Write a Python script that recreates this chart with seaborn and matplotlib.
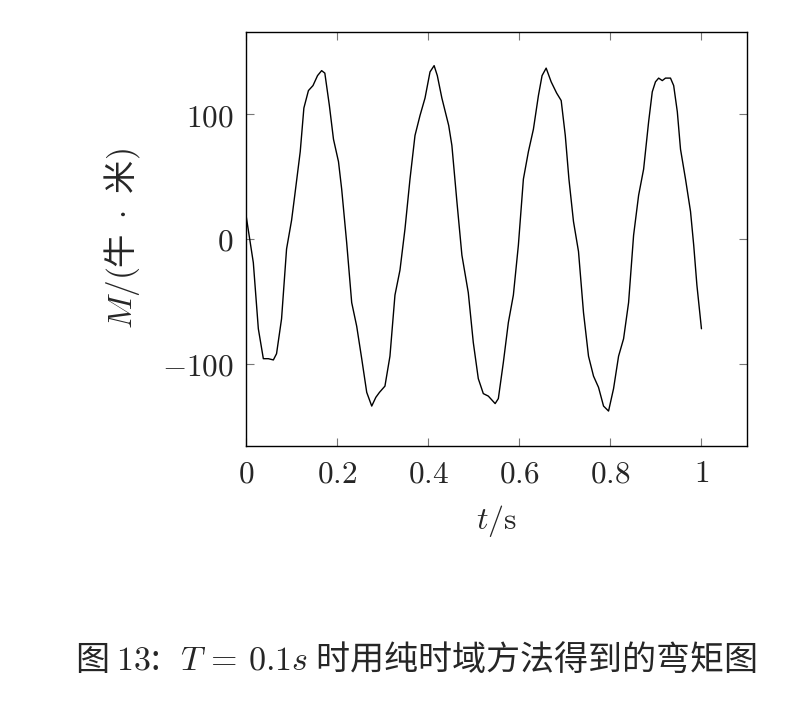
import numpy as np
import pandas as pd
import matplotlib
matplotlib.use("Agg")
import matplotlib.pyplot as plt
import seaborn as sns

# bending moment
t = [0.000, 0.016, 0.027, 0.038, 0.049, 0.060, 0.067, 0.078, 0.089, 0.100,
     0.107, 0.119, 0.127, 0.137, 0.147, 0.157, 0.166, 0.173, 0.183, 0.192,
     0.203, 0.210, 0.221, 0.232, 0.243, 0.254, 0.265, 0.276, 0.285, 0.293,
     0.305, 0.316, 0.327, 0.338, 0.349, 0.360, 0.371, 0.382, 0.393, 0.404,
     0.413, 0.420, 0.430, 0.445, 0.452, 0.463, 0.474, 0.488, 0.499, 0.510,
     0.521, 0.532, 0.547, 0.554, 0.565, 0.576, 0.587, 0.598, 0.609, 0.620,
     0.631, 0.642, 0.650, 0.659, 0.670, 0.682, 0.692, 0.701, 0.709, 0.719,
     0.730, 0.741, 0.752, 0.763, 0.774, 0.785, 0.796, 0.807, 0.818, 0.829,
     0.840, 0.851, 0.862, 0.873, 0.884, 0.892, 0.899, 0.906, 0.914, 0.921,
     0.932, 0.939, 0.947, 0.954, 0.965, 0.976, 0.983, 0.990, 1.000]
moment = [19, -19, -72, -96, -96, -97, -92, -64, -8, 15,
          35, 70, 105, 119, 123, 131, 135, 133, 107, 80,
          62, 40, -3, -51, -70, -96, -123, -134, -127, -123,
          -118, -94, -45, -25, 8, 48, 83, 99, 113, 134,
          139, 131, 113, 91, 75, 30, -13, -43, -83, -112,
          -124, -126, -132, -128, -99, -67, -45, -5, 48, 70,
          88, 115, 131, 137, 126, 117, 111, 83, 48, 14,
          -10, -59, -94, -110, -119, -134, -138, -120, -94, -80,
          -51, 3, 35, 56, 94, 118, 126, 129, 127, 129,
          129, 123, 102, 72, 48, 22, -5, -37, -72]
xticks = [0, 0.2, 0.4, 0.6, 0.8, 1]
xticklabels = ["0", "0.2", "0.4", "0.6", "0.8", "1"]
yticks = [-100, 0, 100]
yticklabels = ["-100", "0", "100"]

df = pd.DataFrame({"t": t, "M": moment})

sns.set_theme(style="ticks")
plt.rcParams["font.family"] = ["DejaVu Serif", "Noto Sans CJK SC"]
plt.rcParams["mathtext.fontset"] = "cm"
cjk = ["Noto Sans CJK SC", "DejaVu Serif"]

fig = plt.figure(figsize=(8.08, 7.01), dpi=100)
ax = fig.add_axes([0.3045, 0.3638, 0.62, 0.5906])

sns.lineplot(data=df, x="t", y="M", sort=False, color="black", linewidth=1.0, ax=ax)

ax.set_xlim(0, 1.1)
ax.set_ylim(-166, 166)
ax.set_xticks(xticks)
ax.set_xticklabels(["$" + s + "$" for s in xticklabels], fontsize=22.5)
ax.set_yticks(yticks)
ax.set_yticklabels(["$" + s + "$" for s in yticklabels], fontsize=22.5)
ax.tick_params(direction="in", top=True, right=True, length=6, width=0.8,
               color="#777777", pad=9)
for sp in ax.spines.values():
    sp.set_color("black")
    sp.set_linewidth(1.0)

ax.set_xlabel(r"$t/\mathrm{s}$", fontsize=23, labelpad=10)
ax.set_ylabel(r"$M/($牛$\ \cdot\ $米$)$", fontsize=24, labelpad=14, family=cjk)

fig.text(0.515, 0.058, r"图 $13$:$\ \ T\,=\,0.1s$ 时用纯时域方法得到的弯矩图",
         ha="center", va="center", fontsize=24.5, family=cjk)

fig.savefig("out.png", dpi=100)
